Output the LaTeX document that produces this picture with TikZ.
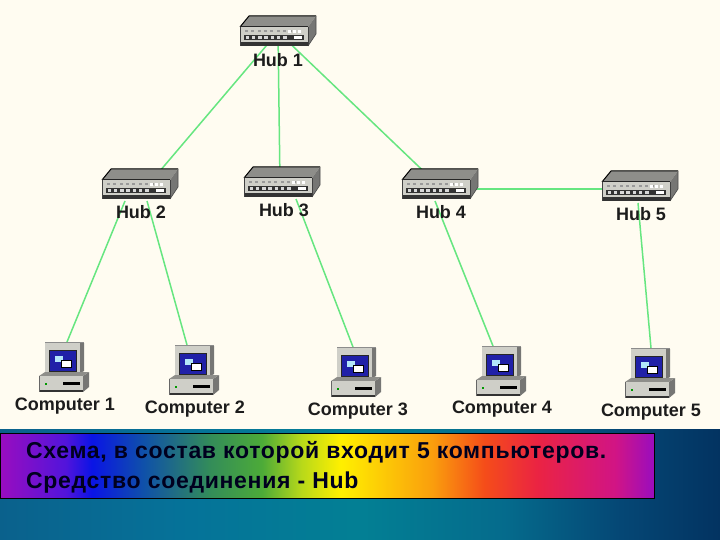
\documentclass[tikz,border=0pt]{standalone}
\usepackage{fontspec}
\setmainfont{Liberation Sans}
\newfontfamily\spacedfont[LetterSpace=3]{Liberation Sans}
\pgfdeclarehorizontalshading{rainbowtwo}{100bp}{
 rgb(0bp)=(0.60,0.05,0.75);
 rgb(25bp)=(0.60,0.05,0.75);
 rgb(30bp)=(0.32,0.08,0.86);
 rgb(32bp)=(0.04,0.08,0.90);
 rgb(36bp)=(0.06,0.32,0.66);
 rgb(41bp)=(0.20,0.55,0.35);
 rgb(45bp)=(0.30,0.67,0.22);
 rgb(48bp)=(0.72,0.85,0.10);
 rgb(51bp)=(1.00,0.94,0.00);
 rgb(58bp)=(0.98,0.62,0.05);
 rgb(62bp)=(0.96,0.30,0.10);
 rgb(66bp)=(0.92,0.14,0.26);
 rgb(72bp)=(0.82,0.08,0.52);
 rgb(75bp)=(0.60,0.05,0.75);
 rgb(100bp)=(0.60,0.05,0.75)}
\pgfdeclarehorizontalshading{seaband}{100bp}{
 rgb(0bp)=(0.04,0.38,0.55);
 rgb(25bp)=(0.04,0.38,0.55);
 rgb(38bp)=(0.02,0.45,0.60);
 rgb(50bp)=(0.01,0.50,0.58);
 rgb(60bp)=(0.02,0.42,0.55);
 rgb(68bp)=(0.02,0.28,0.46);
 rgb(75bp)=(0.01,0.20,0.38);
 rgb(100bp)=(0.01,0.20,0.38)}
\definecolor{paper}{HTML}{FFFCF1}
\definecolor{wire}{HTML}{66E680}
\definecolor{labelink}{HTML}{1C1C1C}
\definecolor{screenblue}{HTML}{2020A8}
\definecolor{caseface}{HTML}{CFCFC8}
\definecolor{caseside}{HTML}{767674}
\definecolor{casetop}{HTML}{8E8E8A}
\tikzset{
 x=1pt,y=-1pt,
 wirepath/.style={draw=wire,line width=1.5pt},
 hubbox/.style={minimum width=76pt,minimum height=32pt,inner sep=0pt,outer sep=0pt},
 compbox/.style={minimum width=50pt,minimum height=50pt,inner sep=0pt,outer sep=0pt},
 iconlabel/.style={font=\bfseries\fontsize{18}{18}\selectfont,text=labelink,inner sep=0pt},
 barline/.style={font=\spacedfont\bfseries\fontsize{23}{23}\selectfont,text=black!88!blue,inner sep=0pt,anchor=west},
 hubicon/.pic={
  % top face
  \fill[casetop] (-38,-5) -- (-29,-16) -- (38,-16) -- (30,-5) -- cycle;
  \draw[black,line width=1pt] (-38,-5) -- (-29,-16) -- (38,-16);
  % side
  \fill[caseside] (30,-5) -- (38,-16) -- (38,2) -- (30,14) -- cycle;
  \draw[black!70,line width=.6pt] (30,14) -- (38,2) -- (38,-16);
  % front
  \fill[caseface] (-38,-5) rectangle (30,11);
  \fill[black!80] (-38,10) rectangle (30,14);
  \draw[black!85,line width=1pt] (-38,-5) -- (30,-5);
  \draw[black!75,line width=.8pt] (-38,-5) -- (-38,14);
  \draw[black!75,line width=.8pt] (30,-5) -- (30,14);
  \fill[black!80] (-34,3) rectangle (26,8);
  \foreach \i in {0,...,6}{\fill[white!85!black] ({-32.5+\i*6.3},4) rectangle ++(3.4,3);}
  \foreach \i in {0,...,7}{\fill[black!40] ({-33+\i*6.3},-2) rectangle ++(3,2);}
  \foreach \i in {0,1,2}{\fill[white] ({10+\i*5},-2) rectangle ++(3,3);}
  \fill[white] (16,4) rectangle (24,7);
 },
 compicon/.pic={
  % monitor
  \fill[caseface] (-20,-24) rectangle (15,6);
  \fill[caseside] (15,-24) -- (19,-24) -- (19,4) -- (15,6) -- cycle;
  \fill[black!45] (-20,-25) rectangle (19,-24);
  \fill[black!85] (-16,-17) rectangle (12,5);
  \fill[screenblue] (-15,-16) rectangle (11,4);
  \fill[white!70!cyan] (-10,-11) rectangle (-2,-5);
  \fill[white] (-4,-7) rectangle (6,0);
  \draw[black,line width=.4pt] (-4,-7) rectangle (6,0);
  % base
  \fill[caseside] (18,9) -- (24,5) -- (24,20) -- (18,25) -- cycle;
  \fill[casetop] (-26,9) -- (-20,5) -- (24,5) -- (18,9) -- cycle;
  \fill[caseface] (-26,9) rectangle (18,23);
  \fill[black!80] (-26,23) rectangle (18,25);
  \draw[black!60,line width=.5pt] (-26,9) -- (-26,25);
  \fill[black] (-2,15) rectangle (15,18);
  \fill[green!60!black] (-20,16) rectangle (-18,18);
 }
}
\begin{document}
\begin{tikzpicture}
\useasboundingbox (0,0) rectangle (720,540);
% backdrop
\fill[paper] (0,0) rectangle (720,429);
\shade[shading=seaband] (0,429) rectangle (720,540);
% positions of the equipment
\node[hubbox] (hub1) at (278,32) {};
\node[hubbox] (hub2) at (140,185) {};
\node[hubbox] (hub3) at (282,183) {};
\node[hubbox] (hub4) at (440,185) {};
\node[hubbox] (hub5) at (640,187) {};
\node[compbox] (comp1) at (65,367) {};
\node[compbox] (comp2) at (195,370) {};
\node[compbox] (comp3) at (357,372) {};
\node[compbox] (comp4) at (502,371) {};
\node[compbox] (comp5) at (651,373) {};
% connectors
\draw[wirepath] (hub1.center) -- ([xshift=8pt]hub2.center);
\draw[wirepath] (hub1.center) -- ([xshift=-2pt]hub3.center);
\draw[wirepath] (hub1.center) -- ([xshift=-2pt]hub4.center);
\draw[wirepath] ([xshift=-15pt]hub2.south) -- ([xshift=2pt]comp1.north);
\draw[wirepath] ([xshift=7pt]hub2.south) -- ([xshift=-8pt]comp2.north);
\draw[wirepath] ([xshift=14pt]hub3.south) -- ([xshift=-4pt]comp3.north);
\draw[wirepath] ([xshift=-5pt]hub4.south) -- ([xshift=-9pt]comp4.north);
\draw[wirepath] ([xshift=-2pt]hub5.south) -- (comp5.north);
\draw[wirepath,line width=2pt] ([yshift=-4pt]hub4.center) -- ([yshift=-2pt]hub5.center);
% icons
\foreach \n in {hub1,hub2,hub3,hub4,hub5}{\pic at (\n.center) {hubicon};}
\foreach \n in {comp1,comp2,comp3,comp4,comp5}{\pic at (\n.center) {compicon};}
% labels
\node[iconlabel] (l1) at (278,60) {Hub 1};
\node[iconlabel] (l2) at (141,212) {Hub 2};
\node[iconlabel] (l3) at (284,210) {Hub 3};
\node[iconlabel] (l4) at (441,212) {Hub 4};
\node[iconlabel] (l5) at (641,214) {Hub 5};
\node[iconlabel] (l6) at (65,406) {Computer 1};
\node[iconlabel] (l7) at (195,409) {Computer 2};
\node[iconlabel] (l8) at (358,411) {Computer 3};
\node[iconlabel] (l9) at (502,409) {Computer 4};
\node[iconlabel] (l10) at (651,412) {Computer 5};
% caption bar
\shade[shading=rainbowtwo,draw=black,line width=.8pt] (0.5,433) rectangle (654.5,498.5);
\node[barline] (t1) at (26,452.5) {Схема, в состав которой входит 5 компьютеров.};
\node[barline] (t2) at (26,482.5) {Средство соединения - Hub};
\end{tikzpicture}
\end{document}
